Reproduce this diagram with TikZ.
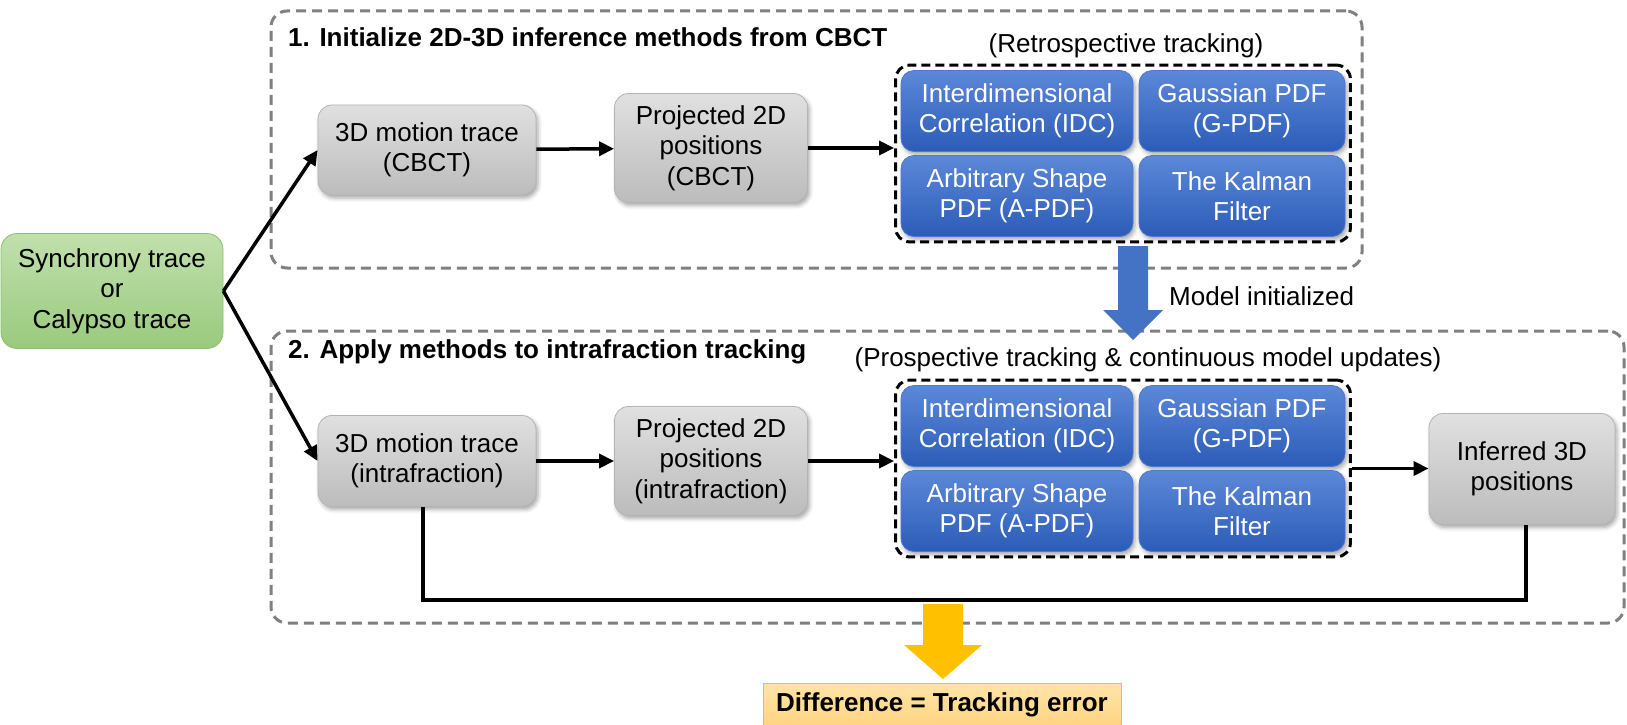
\documentclass[tikz,border=0pt]{standalone}
\usepackage{fontspec}
\setmainfont{Liberation Sans}
\usetikzlibrary{arrows.meta,fit,shadows.blur}

\definecolor{grayTop}{RGB}{224,224,224}
\definecolor{grayBot}{RGB}{188,188,188}
\definecolor{grayEdge}{RGB}{180,180,180}
\definecolor{blueTop}{RGB}{92,136,216}
\definecolor{blueBot}{RGB}{44,92,184}
\definecolor{blueEdge}{RGB}{80,120,205}
\definecolor{greenTop}{RGB}{192,224,172}
\definecolor{greenBot}{RGB}{154,202,126}
\definecolor{greenEdge}{RGB}{140,192,112}
\definecolor{groupGray}{RGB}{128,128,128}
\definecolor{arrowBlue}{RGB}{68,114,196}
\definecolor{arrowGold}{RGB}{255,192,0}
\definecolor{noteTop}{RGB}{255,228,168}
\definecolor{noteBot}{RGB}{255,212,130}

\begin{document}
\begin{tikzpicture}[x=1pt,y=-1pt,
  txt/.style={font=\fontsize{26}{30.5}\selectfont},
  softshadow/.style={blur shadow={shadow xshift=2pt,shadow yshift=-3pt,
      shadow blur radius=4pt,shadow opacity=35}},
  graybox/.style={txt,draw=grayEdge,line width=0.8pt,rounded corners=14pt,
      top color=grayTop,bottom color=grayBot,align=center,inner sep=0pt,softshadow},
  methodbox/.style={txt,text=white,draw=blueEdge,line width=0.8pt,rounded corners=13pt,
      top color=blueTop,bottom color=blueBot,align=center,inner sep=0pt,
      minimum height=81pt,softshadow},
  widecol/.style={methodbox,minimum width=232pt},
  narrowcol/.style={methodbox,minimum width=206pt},
  methodgroup/.style={draw=black,line width=3pt,dash pattern=on 9pt off 5pt,
      rounded corners=14pt,inner sep=5pt},
  stagebox/.style={draw=groupGray,line width=3pt,dash pattern=on 10pt off 6pt,
      rounded corners=16pt,inner sep=0pt},
  stagetitle/.style={txt,font=\fontsize{26}{30.5}\selectfont\bfseries,anchor=west,inner sep=0pt},
  caption/.style={txt,inner sep=0pt},
  flow/.style={line width=3.5pt,-{Triangle[length=15pt,width=14pt]}},
  link/.style={line width=3.5pt,line join=miter},
]
\useasboundingbox (0,0) rectangle (1627,725);

% stage frames
\coordinate (s1a) at (271,11);  \coordinate (s1b) at (1362,268);
\coordinate (s2a) at (271,331); \coordinate (s2b) at (1624,623);
\node[stagebox,fit=(s1a)(s1b)] (S1) {};
\node[stagebox,fit=(s2a)(s2b)] (S2) {};
\node[stagetitle] (T1) at (288,37) {1. Initialize 2D-3D inference methods from CBCT};
\node[stagetitle] (T2) at (288,352) {2. Apply methods to intrafraction tracking};

% source trace
\node[txt,draw=greenEdge,line width=0.8pt,rounded corners=16pt,top color=greenTop,
      bottom color=greenBot,align=center,inner sep=0pt,minimum width=222pt,
      minimum height=115pt] (src) at (112,291) {Synchrony trace\\or\\Calypso trace};

% stage 1 row
\node[graybox,minimum width=218pt,minimum height=90pt] (A1) at (427,150) {3D motion trace\\(CBCT)};
\node[graybox,minimum width=193pt,minimum height=109pt] (B1) at (711,148) {Projected 2D\\positions\\(CBCT)};
\node[widecol]   (M1a) at (1017,111) {Interdimensional\\Correlation (IDC)};
\node[narrowcol] (M1b) at (1242,111) {Gaussian PDF\\(G-PDF)};
\node[widecol]   (M1c) at (1017,196) {Arbitrary Shape\\PDF (A-PDF)};
\node[narrowcol] (M1d) at (1242,196) {The Kalman\\Filter};
\node[methodgroup,fit=(M1a)(M1d)] (G1) {};
\node[caption] (R1) at (1126,46) {(Retrospective tracking)};

% stage 2 row
\node[graybox,minimum width=218pt,minimum height=91pt] (A2) at (427,461) {3D motion trace\\(intrafraction)};
\node[graybox,minimum width=193pt,minimum height=109pt] (B2) at (711,461) {Projected 2D\\positions\\(intrafraction)};
\node[widecol]   (M2a) at (1017,426) {Interdimensional\\Correlation (IDC)};
\node[narrowcol] (M2b) at (1242,426) {Gaussian PDF\\(G-PDF)};
\node[widecol]   (M2c) at (1017,511) {Arbitrary Shape\\PDF (A-PDF)};
\node[narrowcol] (M2d) at (1242,511) {The Kalman\\Filter};
\node[methodgroup,fit=(M2a)(M2d)] (G2) {};
\node[caption] (R2) at (1148,360) {(Prospective tracking \& continuous model updates)};
\node[graybox,minimum width=186pt,minimum height=111pt] (C) at (1522,469) {Inferred 3D\\positions};

% connectors
\draw[flow] (src.east) -- (A1.west);
\draw[flow] (src.east) -- (A2.west);
\draw[flow] (A1) -- (B1);
\draw[flow] (B1.east) -- (G1.west |- B1.east);
\draw[flow] (A2) -- (B2);
\draw[flow] (B2.east) -- (G2.west |- B2.east);
\draw[flow] (G2.east) -- (C.west |- G2.east);
\coordinate (base) at (0,600);
\draw[link] ([xshift=-4pt]A2.south) -- ([xshift=-4pt]A2.south |- base)
            -- ([xshift=4pt]C.south |- base) -- ([xshift=4pt]C.south);

% model hand-over arrow
\fill[arrowBlue] (1118,246) -- (1148,246) -- (1148,310) -- (1163,310)
                 -- (1133,340) -- (1103,310) -- (1118,310) -- cycle;
\node[caption,anchor=west] (MI) at (1169,296) {Model initialized};

% result
\fill[arrowGold] (923,604) -- (963,604) -- (963,645) -- (982,645)
                 -- (943,679) -- (904,645) -- (923,645) -- cycle;
\node[txt,font=\fontsize{26}{30.5}\selectfont\bfseries,draw=arrowGold,line width=0.8pt,
      top color=noteTop,bottom color=noteBot,inner sep=0pt,minimum width=358pt,
      minimum height=44pt] (D) at (942,705) {Difference = Tracking error};
\end{tikzpicture}
\end{document}
